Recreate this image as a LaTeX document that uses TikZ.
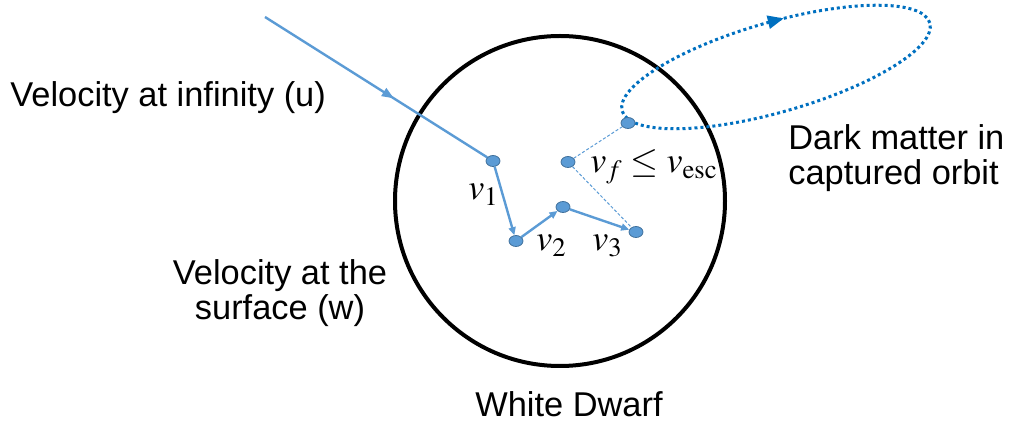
\documentclass[tikz,border=0pt]{standalone}
\usepackage{mathptmx}
\usepackage{fontspec}
\setmainfont{Liberation Sans}
\usetikzlibrary{arrows.meta,shapes.geometric,decorations.markings}

\definecolor{lineblue}{RGB}{91,155,213}
\definecolor{dotedge}{RGB}{65,113,156}
\definecolor{orbitblue}{RGB}{0,112,192}

\begin{document}
\begin{tikzpicture}[x=0.5pt,y=0.5pt,
lbl/.style={font=\fontsize{17.2}{17.5}\selectfont,inner sep=0pt},
mlbl/.style={font=\fontsize{18}{18}\selectfont,inner sep=0pt},
hit/.style={ellipse,draw=dotedge,fill=lineblue,line width=0.4pt,minimum width=7pt,minimum height=5.5pt,inner sep=0pt},
track/.style={draw=lineblue,line width=1.2pt},
hop/.style={track,-{Triangle[length=4pt,width=3.5pt]}},
guide/.style={draw=lineblue,line width=0.5pt,dash pattern=on 1.5pt off 1pt},
orbit/.style={draw=orbitblue,line width=1.5pt,dash pattern=on 1.5pt off 1.5pt}]
\useasboundingbox (0,0) rectangle (1013,-432);
% white dwarf and captured orbit
\node[draw,circle,line width=2pt,minimum size=165pt,inner sep=0pt] (wd) at (560,-201) {};
\coordinate (orbc) at (776,-67);
\draw[orbit,rotate around={16:(orbc)},postaction={decorate},
  decoration={markings,mark=at position 0.22 with {\arrowreversed[orbitblue]{Triangle[length=8pt,width=6.5pt]}}}]
  (orbc) ellipse [x radius=160,y radius=45];
% scattering points
\coordinate (start) at (265,-17);
\node[hit] (p1) at (493,-161) {};
\node[hit] (p2) at (516,-241) {};
\node[hit] (p3) at (563,-207) {};
\node[hit] (p4) at (636,-232) {};
\node[hit] (pf) at (568,-162) {};
\node[hit] (pout) at (628,-123) {};
\draw[track,postaction={decorate},
  decoration={markings,mark=at position 0.58 with {\arrow[lineblue]{Triangle[length=6pt,width=4.5pt]}}}]
  (start) -- (p1);
\draw[hop] (p1) -- (p2);
\draw[hop] (p2) -- (p3);
\draw[hop] (p3) -- (p4);
\draw[guide] (pf) -- (pout);
\draw[guide] (pf) -- (p4);
% labels
\node[mlbl,anchor=base west] (vone) at (468,-200) {$v_1$};
\node[mlbl,anchor=base west] (vtwo) at (536,-251) {$v_2$};
\node[mlbl,anchor=base west] (vthree) at (592,-251) {$v_3$};
\node[mlbl,anchor=base west] (vfin) at (590,-173) {$v_f \leq v_{\mathrm{esc}}$};
\node[lbl,anchor=base west] (uinf) at (10,-107) {Velocity at infinity (u)};
\node[lbl,anchor=base,align=center] (wsurf) at (280,-320) {Velocity at the\\surface (w)};
\node[lbl,anchor=base west,align=left] (dm) at (788,-185) {Dark matter in\\captured orbit};
\node[lbl,anchor=base] (wdname) at (569,-417) {White Dwarf};
\end{tikzpicture}
\end{document}
